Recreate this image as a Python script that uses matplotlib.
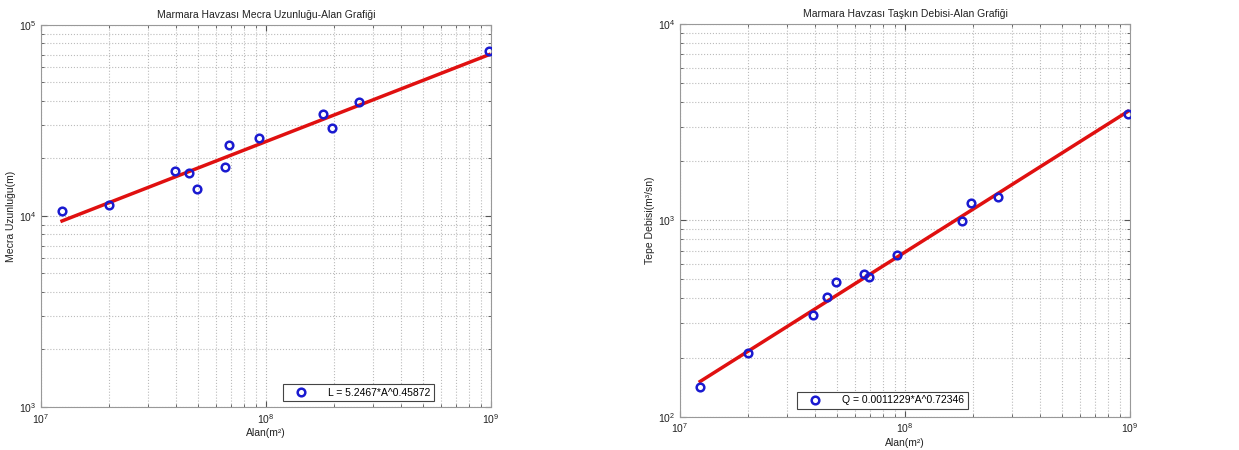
import numpy as np
import matplotlib
matplotlib.use('Agg')
import matplotlib.pyplot as plt

plt.rcParams['font.family'] = ['Liberation Sans', 'DejaVu Sans']

# basin areas (m2)
alan = [1.24e7, 2.01e7, 3.92e7, 4.53e7, 4.95e7, 6.57e7, 6.87e7, 9.31e7,
        1.80e8, 1.97e8, 2.59e8, 9.80e8]

# channel length (m), left chart
mecra = [10590, 11370, 17260, 16870, 13900, 17990, 23560, 25710,
         34340, 28780, 39640, 73270]

# peak discharge (m3/s), right chart
alan_q = [1.23e7, 2.00e7, 3.90e7, 4.50e7, 4.93e7, 6.55e7, 6.89e7, 9.25e7,
          1.80e8, 1.97e8, 2.59e8, 9.77e8]
debi = [142, 212, 330, 409, 486, 535, 516, 668,
        989, 1225, 1316, 3500]

# fitted power laws shown in the legends
fit_l = (5.2467, 0.45872)
fit_q = (0.0011229, 0.72346)


def style_axes(ax):
    ax.set_xscale('log')
    ax.set_yscale('log')
    ax.grid(True, which='major', color='#b0b0b0', linestyle=':', linewidth=0.8)
    ax.grid(True, which='minor', color='#bbbbbb', linestyle=':', linewidth=0.8)
    ax.tick_params(which='both', direction='in', top=True, right=True,
                   labelsize=7.5, colors='#555555', labelcolor='#222222')
    ax.tick_params(which='major', length=4)
    ax.tick_params(which='minor', length=2)
    for s in ax.spines.values():
        s.set_color('#999999')


def draw(ax, x, y, fit, title, ylabel, label, ylim, legend_box):
    style_axes(ax)
    xs = np.array([min(x), max(x)])
    ax.plot(xs, fit[0] * xs ** fit[1], color='#e01010', linewidth=2.5, zorder=2)
    ax.plot(x, y, 'o', markerfacecolor='none', markeredgecolor='#1a1ad0',
            markeredgewidth=1.8, markersize=5.5, label=label, zorder=3)
    ax.set_xlim(1e7, 1e9)
    ax.set_ylim(*ylim)
    ax.set_title(title, fontsize=7.5, pad=5, color='#222222')
    ax.set_xlabel('Alan(m²)', fontsize=7.5, labelpad=2, color='#222222')
    ax.set_ylabel(ylabel, fontsize=7.5, labelpad=2, color='#222222')
    leg = ax.legend(loc='lower left', bbox_to_anchor=legend_box, fontsize=7.5,
                    fancybox=False, framealpha=1, edgecolor='#444444',
                    borderpad=0.35, handlelength=2.8, handletextpad=1.2,
                    borderaxespad=0)
    leg.get_frame().set_linewidth(0.8)


fig = plt.figure(figsize=(12.39, 4.5), dpi=100)
ax1 = fig.add_axes([0.0331, 0.0956, 0.3632, 0.849])
ax2 = fig.add_axes([0.5488, 0.074, 0.3632, 0.8727])

draw(ax1, alan, mecra, fit_l, 'Marmara Havzası Mecra Uzunluğu-Alan Grafiği',
     'Mecra Uzunluğu(m)', 'L = 5.2467*A^0.45872', (1e3, 1e5), (0.538, 0.015))
draw(ax2, alan_q, debi, fit_q, 'Marmara Havzası Taşkın Debisi-Alan Grafiği',
     'Tepe Debisi(m³/sn)', 'Q = 0.0011229*A^0.72346', (1e2, 1e4), (0.26, 0.02))

fig.savefig('out.png', dpi=100)
